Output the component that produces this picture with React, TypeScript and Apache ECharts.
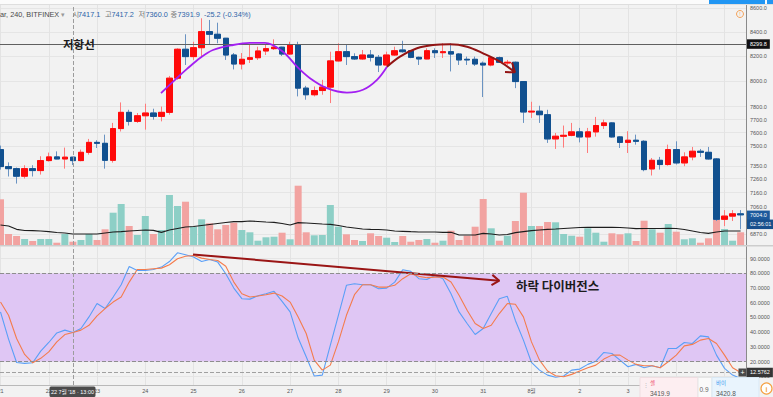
import React, { useEffect, useRef } from 'react';
import * as echarts from 'echarts';

// ---------- data ----------
const dayLabels = ['21', '22', '23', '24', '25', '26', '27', '28', '29', '30', '31', '8월', '2', '3', '4', '5'];
const barsPerDay = 6;
const visibleDayLabels = 14; // "4" and "5" sit under the order widget in the reference

const opens = [
  7473, 7348, 7333, 7278, 7333, 7319, 7392, 7419, 7404, 7417.1,
  7392, 7453, 7527, 7520, 7394, 7631, 7755, 7686, 7729, 7750,
  7724, 7755, 8023, 8257, 8197, 8270, 8403, 8381, 8348, 8210,
  8137, 8175, 8188, 8243, 8262, 8274, 8218, 8292, 7944, 7892,
  7925, 7952, 8162, 8237, 8197, 8178, 8210, 8191, 8129, 8210,
  8251, 8245, 8191, 8178, 8245, 8229, 8237, 8218, 8175, 8175,
  8143, 8129, 8188, 8145, 8151, 7996, 7758, 7764, 7737, 7553,
  7573, 7580, 7606, 7568, 7606, 7654, 7674, 7568, 7527, 7543,
  7535, 7331, 7394, 7363, 7473, 7375, 7419, 7461, 7453, 7404,
  6973, 6995, 7011,
];
const closes = [
  7348, 7333, 7278, 7333, 7319, 7392, 7419, 7404, 7417, 7391.9,
  7453, 7527, 7520, 7394, 7631, 7755, 7686, 7729, 7750, 7724,
  7755, 8023, 8257, 8197, 8270, 8403, 8381, 8348, 8210, 8137,
  8175, 8188, 8243, 8262, 8274, 8218, 8292, 7944, 7892, 7925,
  7952, 8162, 8237, 8197, 8178, 8210, 8191, 8129, 8210, 8245,
  8237, 8191, 8178, 8245, 8229, 8237, 8218, 8170, 8170, 8137,
  8129, 8188, 8151, 8151, 7996, 7758, 7764, 7737, 7553, 7573,
  7580, 7606, 7568, 7606, 7654, 7674, 7568, 7527, 7543, 7535,
  7326, 7394, 7363, 7473, 7375, 7419, 7461, 7453, 7404, 6973,
  6995, 7011, 7004,
];
const lows = [
  7326, 7276, 7225, 7261, 7276, 7290, 7385, 7402, 7333, 7360,
  7387, 7436, 7485, 7333, 7377, 7609, 7654, 7674, 7623, 7699,
  7686, 7737, 8010, 8129, 8170, 8197, 8292, 8306, 8170, 8093,
  8093, 8145, 8170, 8210, 8251, 8202, 8210, 7879, 7853, 7879,
  7892, 7827, 8157, 8129, 8170, 8170, 8157, 8072, 8118, 8202,
  8229, 8184, 8129, 8175, 8186, 8186, 8077, 8129, 8129, 8121,
  7874, 8118, 8145, 8129, 7944, 7674, 7712, 7674, 7523, 7478,
  7488, 7573, 7527, 7448, 7570, 7628, 7563, 7485, 7448, 7510,
  7314, 7283, 7326, 7355, 7363, 7351, 7394, 7419, 7399, 6961,
  6926, 6961, 6904,
];
const highs = [
  7503, 7379, 7341, 7358, 7358, 7424, 7451, 7460, 7488, 7417.2,
  7473, 7553, 7543, 7585, 7674, 7832, 7775, 7750, 7822, 7783,
  7800, 8041, 8265, 8381, 8319, 8515, 8501, 8478, 8350, 8226,
  8226, 8300, 8278, 8292, 8339, 8278, 8319, 8319, 7962, 7957,
  8010, 8237, 8306, 8292, 8224, 8251, 8251, 8210, 8237, 8278,
  8327, 8251, 8197, 8265, 8265, 8306, 8306, 8226, 8197, 8197,
  8157, 8202, 8197, 8170, 8157, 8000, 7837, 7806, 7775, 7598,
  7654, 7674, 7636, 7636, 7720, 7699, 7680, 7573, 7611, 7585,
  7543, 7411, 7419, 7510, 7535, 7453, 7493, 7478, 7493, 7411,
  7037, 7037, 7037,
];
const volumes = [
  4570, 1100, 900, 600, 400, 600, 600, 230, 1100, 330,
  500, 1100, 500, 1570, 3230, 4100, 1900, 1000, 2900, 1100,
  1500, 5000, 3900, 4330, 1830, 2570, 2170, 1570, 2000, 2230,
  1500, 1270, 430, 770, 830, 1230, 570, 5930, 1270, 970,
  1000, 4000, 1830, 1070, 500, 400, 1170, 900, 730, 300,
  900, 330, 500, 600, 230, 430, 1430, 500, 930, 1830,
  4600, 1670, 430, 930, 2400, 5230, 1900, 1900, 2300, 2270,
  1100, 930, 830, 1670, 1230, 330, 1170, 1070, 1170, 400,
  2430, 1570, 1230, 2100, 1330, 570, 670, 230, 670, 5900,
  1600, 430, 1270,
];
const volumeMA = [
  2000, 1900, 1570, 1450, 1430, 1400, 1330, 1250, 1200, 1100,
  1100, 1100, 1100, 1200, 1300, 1330, 1400, 1450, 1500, 1470,
  1270, 1500, 1650, 1800, 1850, 1950, 2050, 2150, 2250, 2330,
  2330, 2400, 2350, 2300, 2270, 2150, 2000, 2230, 2200, 2150,
  2100, 2070, 1950, 1800, 1700, 1600, 1570, 1550, 1500, 1400,
  1370, 1330, 1300, 1300, 1300, 1270, 1270, 1000, 1000, 1000,
  1170, 1100, 1000, 1050, 1230, 1330, 1430, 1500, 1570, 1600,
  1650, 1700, 1750, 1770, 1770, 1770, 1770, 1750, 1700, 1630,
  1650, 1650, 1650, 1670, 1650, 1550, 1400, 1250, 1170, 1300,
  1400, 1400, 1400,
];
const stochK = [
  53.8, 35.3, 19.4, 18.8, 19.2, 27.1, 33, 39.5, 41.4, 39.8,
  42.5, 50.4, 59.5, 56.1, 63.9, 72.3, 84.7, 82, 82, 82.7,
  84.3, 88.1, 94, 92.7, 91.1, 88.1, 89.5, 87.7, 79.8, 70,
  62.8, 62.5, 64.8, 66.2, 67.8, 61, 53.8, 36, 23.3, 10.2,
  10.8, 31.2, 51.5, 71.9, 73, 72.3, 72.3, 69.6, 70, 74.1,
  82.5, 81.4, 76.4, 75.9, 78.6, 76.4, 66.2, 53.8, 45.9, 38.4,
  42.5, 52.7, 62.8, 64.4, 48, 34.6, 19.4, 14.2, 10.8, 9.3,
  10.2, 14.2, 14.9, 18.1, 20.3, 26.2, 25.5, 21, 16.5, 18.1,
  15.8, 17.2, 15.8, 28.9, 28.9, 33, 32.3, 37.5, 36.8, 24.4,
  15.4, 10.8, 8.5,
];
const stochD = [
  60.5, 51.5, 35.7, 24.9, 19.2, 22.2, 26.6, 33.4, 38.4, 39.8,
  41.4, 44.7, 51.1, 56.1, 60.5, 63.9, 74.1, 82.7, 82.7, 83.2,
  83.6, 85.9, 90, 91.7, 92.2, 90.4, 89.5, 88.8, 84.9, 74.1,
  66.2, 63.9, 64.6, 65.5, 66.6, 64.6, 60.5, 50.4, 39.1, 21,
  14.2, 17.6, 33.4, 51.5, 65.5, 72.3, 72.3, 70.7, 70.7, 71.9,
  76.4, 79.8, 78, 77.1, 77.5, 77.5, 74.1, 65.1, 54.9, 45.9,
  42.5, 44.7, 52.7, 59.5, 59, 50.4, 33.4, 21, 13.6, 10.4,
  9.7, 11.3, 13.6, 15.8, 17.6, 21.7, 24.4, 24.4, 21, 18.1,
  17.2, 17.2, 15.8, 19.9, 24.4, 30.7, 31.7, 34.6, 35.7, 32.3,
  24.4, 15.8, 12.5762,
];

const priceTicks = [8600, 8400, 8200, 8000, 7800, 7700, 7600, 7500, 7350, 7260, 7160, 7060, 6870];
const stochTicks = [90, 80, 70, 60, 50, 40, 30, 20, 10];
const stochUpper = 80;
const stochLower = 20;
const resistanceLevel = 8299.8;
const lastPrice = 7004.0;
const lastStoch = 12.5762;
const countdown = '02:56:01';
const crosshairIndex = 9;
const crosshairLabel = "22 7월 '18 · 13:00";

// drawn annotations: [bar index, price] / [bar index, stoch value]
const purpleArc = [
  [19.95, 7905], [21.69, 8010], [23.18, 8097], [24.8, 8186], [26.41, 8251], [28.9, 8292],
  [31.01, 8309], [32.88, 8309], [35.11, 8237], [36.86, 8115], [38.47, 8023], [40.58, 7944],
  [43.07, 7909], [45.06, 7931], [46.8, 8010], [48.04, 8115],
];
const redArc = [
  [48.04, 8115], [49.66, 8197], [51.77, 8265], [53.76, 8292], [55.87, 8298], [57.99, 8278],
  [59.98, 8224], [62.09, 8156], [63.95, 8070],
];
const redArrowHead = [[62.71, 8072], [63.95, 8070], [63.58, 8149]];
const divergenceLine = [[23.93, 92.9], [62.0, 75.05]];
const divergenceArrowHead = [[61.03, 72.0], [62.0, 75.05], [61.14, 79.0]];

const bidLabel = '셀';
const bidPrice = '3419.9';
const spread = '0.9';
const askLabel = '바이';
const askPrice = '3420.8';

// ---------- styling ----------
const LATIN = '"Liberation Sans", Arial, "Noto Sans CJK KR", sans-serif';
const KR = '"Noto Sans CJK KR", "Noto Sans", sans-serif';
const UP = '#ff0a0a';
const DOWN = '#11508f';
const UP_WICK = '#ff7a7a';
const DOWN_WICK = '#6a93c2';
const TEAL = '#8dcfc6';
const SALMON = '#f2a3a1';
const BG = '#f2f2f2';

const X_MIN = -0.0622;
const X_MAX = 92.667;

function buildOption(): any {
  const idx = opens.map((_, i) => i);
  const dayStarts = dayLabels.map((_, d) => d * barsPerDay).filter((v) => v <= idx.length - 1);
  const labelStarts = dayStarts.slice(0, visibleDayLabels);
  const candleFull = idx.map((i) => [i, opens[i], closes[i], lows[i], highs[i]]);
  const candleBody = idx.map((i) => [
    i, opens[i], closes[i], Math.min(opens[i], closes[i]), Math.max(opens[i], closes[i]),
  ]);
  const volData = idx.map((i) => ({
    value: [i, volumes[i]],
    itemStyle: { color: closes[i] >= opens[i] ? TEAL : SALMON },
  }));

  const xAxisFor = (gridIndex: number, showLabels: boolean) => ({
    type: 'value',
    gridIndex,
    min: X_MIN,
    max: X_MAX,
    axisLine: { show: showLabels, onZero: false, lineStyle: { color: '#b9b9b9' } },
    axisTick: { show: false, customValues: dayStarts },
    axisLabel: {
      show: showLabels,
      customValues: labelStarts,
      formatter: (v: number) => dayLabels[Math.round(v / barsPerDay)],
      fontSize: 5.5,
      color: '#555',
      margin: 3.5,
      fontFamily: LATIN,
    },
    splitLine: { show: true, lineStyle: { color: '#e3e3e3', width: 1 } },
  });

  const o = opens[crosshairIndex];
  const h = highs[crosshairIndex];
  const l = lows[crosshairIndex];
  const c = closes[crosshairIndex];
  const chg = c - o;
  const pct = (chg / o) * 100;
  const valColor = c >= o ? UP : '#2d64a8';

  const headerPieces: any[] = [
    { x: 0, text: 'ar, 240, BITFINEX', fill: '#4a4a4a' },
    { x: 60.5, text: '▾', fill: '#999' },
    { x: 72.5, text: '시', fill: '#777' },
    { x: 78, text: o.toFixed(1), fill: valColor },
    { x: 105, text: '고', fill: '#777' },
    { x: 111.5, text: h.toFixed(1), fill: valColor },
    { x: 138.5, text: '저', fill: '#777' },
    { x: 145.5, text: l.toFixed(1), fill: valColor },
    { x: 170.5, text: '종', fill: '#777' },
    { x: 177.5, text: c.toFixed(1), fill: valColor },
    { x: 204, text: `${chg.toFixed(1)} (${pct.toFixed(2)}%)`, fill: valColor },
  ];

  const graphic: any[] = [
    // top toolbar strip
    { type: 'rect', left: 0, top: 0, shape: { width: 773, height: 4 }, style: { fill: '#fbfbfb' }, z: 10 },
    { type: 'line', shape: { x1: 0, y1: 4.5, x2: 773, y2: 4.5 }, style: { stroke: '#dedede', lineWidth: 1 }, z: 10 },
    { type: 'rect', shape: { x: 709, y: 0, width: 56, height: 4 }, style: { fill: '#2196f3' }, z: 11 },
    { type: 'rect', shape: { x: 767, y: 0, width: 6, height: 4 }, style: { fill: '#2196f3' }, z: 11 },
    // pane separator
    { type: 'rect', shape: { x: 0, y: 245, width: 773, height: 1.5 }, style: { fill: '#cdcdcd' }, z: 10 },
    // header legend
    ...headerPieces.map((p) => ({
      type: 'text', x: p.x, y: 14, z: 12,
      style: { text: p.text, fill: p.fill, fontSize: 7.3, fontFamily: LATIN, textVerticalAlign: 'middle', textAlign: 'left' },
    })),
    // info icon top right
    { type: 'circle', shape: { cx: 740, cy: 14, r: 3.5 }, style: { fill: 'none', stroke: '#f5a35b', lineWidth: 1 }, z: 12 },
    { type: 'text', x: 740, y: 14.3, z: 12, style: { text: '!', fill: '#f5a35b', fontSize: 5, fontFamily: LATIN, textAlign: 'center', textVerticalAlign: 'middle' } },
    // annotation texts
    { type: 'text', x: 63, y: 44, z: 12, style: { text: '저항선', fill: '#1c1c1c', fontSize: 11.5, fontWeight: 'bold', fontFamily: KR, textVerticalAlign: 'middle' } },
    { type: 'text', x: 516, y: 285.5, z: 12, style: { text: '하락 다이버전스', fill: '#1c1c1c', fontSize: 12.5, fontWeight: 'bold', fontFamily: KR, textVerticalAlign: 'middle' } },
    // crosshair time label
    { type: 'rect', shape: { x: 49.5, y: 386.5, width: 46, height: 10.5, r: 1.5 }, style: { fill: '#4b4b4b' }, z: 13 },
    { type: 'text', x: 72.5, y: 391.8, z: 14, style: { text: crosshairLabel, fill: '#fff', fontSize: 5.5, fontFamily: LATIN, textAlign: 'center', textVerticalAlign: 'middle' } },
    // "+" marker next to stoch value
    { type: 'rect', shape: { x: 738.5, y: 368.5, width: 8, height: 8 }, style: { fill: '#4a4a4a' }, z: 13 },
    { type: 'text', x: 742.5, y: 372.7, z: 14, style: { text: '+', fill: '#fff', fontSize: 7, fontFamily: LATIN, textAlign: 'center', textVerticalAlign: 'middle' } },
    // bid/ask widget
    { type: 'rect', shape: { x: 640, y: 377.5, width: 58, height: 22 }, style: { fill: '#fdeef1', stroke: '#efdde1', lineWidth: 1 }, z: 13 },
    { type: 'rect', shape: { x: 698, y: 377.5, width: 14, height: 22 }, style: { fill: '#fafafa', stroke: '#e6e6e6', lineWidth: 1 }, z: 13 },
    { type: 'rect', shape: { x: 712, y: 377.5, width: 47, height: 22 }, style: { fill: '#e9f4fd', stroke: '#d9e8f4', lineWidth: 1 }, z: 13 },
    { type: 'text', x: 643, y: 384.5, z: 14, style: { text: '⋮', fill: '#bbb', fontSize: 6, fontFamily: LATIN, textVerticalAlign: 'middle' } },
    { type: 'text', x: 650, y: 383, z: 14, style: { text: bidLabel, fill: '#ef4f6c', fontSize: 5.5, fontFamily: KR, textVerticalAlign: 'middle' } },
    { type: 'text', x: 650, y: 393, z: 14, style: { text: bidPrice, fill: '#555', fontSize: 6.5, fontFamily: LATIN, textVerticalAlign: 'middle' } },
    { type: 'text', x: 699.5, y: 389, z: 14, style: { text: spread, fill: '#666', fontSize: 6.5, fontFamily: LATIN, textVerticalAlign: 'middle' } },
    { type: 'text', x: 716, y: 383, z: 14, style: { text: askLabel, fill: '#3a9df0', fontSize: 5.5, fontFamily: KR, textVerticalAlign: 'middle' } },
    { type: 'text', x: 716, y: 393, z: 14, style: { text: askPrice, fill: '#555', fontSize: 6.5, fontFamily: LATIN, textVerticalAlign: 'middle' } },
    { type: 'circle', shape: { cx: 766.5, cy: 388.5, r: 5.5 }, style: { fill: '#fff', stroke: '#f5a142', lineWidth: 1.2 }, z: 14 },
    { type: 'text', x: 766.5, y: 389, z: 15, style: { text: 'i', fill: '#f5a142', fontSize: 7, fontWeight: 'bold', fontFamily: LATIN, textAlign: 'center', textVerticalAlign: 'middle' } },
  ];

  return {
    animation: false,
    backgroundColor: BG,
    textStyle: { fontFamily: LATIN },
    grid: [
      { left: 0, right: 27, top: 4, height: 241, containLabel: false, outerBoundsMode: 'none' },
      { left: 0, right: 27, top: 246.5, height: 138.5, containLabel: false, outerBoundsMode: 'none' },
    ],
    xAxis: [xAxisFor(0, false), xAxisFor(1, true)],
    yAxis: [
      {
        type: 'log', logBase: 10, gridIndex: 0, position: 'right', min: 6797, max: 8637,
        axisLine: { show: true, onZero: false, lineStyle: { color: '#8a8a8a' } },
        axisTick: { show: false, customValues: priceTicks },
        axisLabel: { customValues: priceTicks, formatter: (v: number) => v.toFixed(1), fontSize: 5.5, color: '#555', margin: 4, fontFamily: LATIN },
        splitLine: { show: true, lineStyle: { color: '#e5e5e5' } },
      },
      { type: 'value', gridIndex: 0, min: 0, max: 24100, show: false, splitLine: { show: false } },
      {
        type: 'value', gridIndex: 1, position: 'right', min: 4.07, max: 98.31,
        axisLine: { show: true, onZero: false, lineStyle: { color: '#8a8a8a' } },
        axisTick: { show: false, customValues: stochTicks },
        axisLabel: { customValues: stochTicks, formatter: (v: number) => v.toFixed(4), fontSize: 5.5, color: '#555', margin: 4, fontFamily: LATIN },
        splitLine: { show: true, lineStyle: { color: '#e5e5e5' } },
      },
    ],
    series: [
      {
        name: 'volume', type: 'bar', xAxisIndex: 0, yAxisIndex: 1, data: volData, barWidth: 7, z: 1,
      },
      {
        name: 'volumeMA', type: 'line', xAxisIndex: 0, yAxisIndex: 1, z: 2,
        data: idx.map((i) => [i, volumeMA[i]]), symbol: 'none',
        lineStyle: { color: '#1e1e1e', width: 1.2 },
      },
      {
        name: 'wicks', type: 'candlestick', xAxisIndex: 0, yAxisIndex: 0, z: 3, data: candleFull,
        barWidth: 6, clip: false,
        itemStyle: { color: 'rgba(0,0,0,0)', color0: 'rgba(0,0,0,0)', borderColor: UP_WICK, borderColor0: DOWN_WICK, borderWidth: 1 },
        markLine: {
          silent: true, symbol: ['none', 'none'], animation: false,
          data: [
            {
              yAxis: resistanceLevel,
              lineStyle: { color: '#606060', width: 1.2, type: 'solid' },
              label: {
                show: true, position: 'end', distance: 1, formatter: resistanceLevel.toFixed(1),
                backgroundColor: '#111', color: '#fff', fontSize: 5.5, padding: [2, 3], fontFamily: LATIN,
              },
            },
            { xAxis: crosshairIndex, lineStyle: { color: '#9c9c9c', width: 1, type: 'dashed' }, label: { show: false } },
          ],
        },
      },
      {
        name: 'bodies', type: 'candlestick', xAxisIndex: 0, yAxisIndex: 0, z: 4, data: candleBody,
        barWidth: 6, clip: false,
        itemStyle: { color: UP, color0: DOWN, borderColor: UP, borderColor0: DOWN, borderWidth: 1 },
        markLine: {
          silent: true, symbol: ['none', 'none'], animation: false,
          lineStyle: { color: 'rgba(0,0,0,0)', width: 1 },
          data: [
            {
              yAxis: lastPrice,
              label: {
                show: true, position: 'end', distance: 1, offset: [0, 5],
                formatter: `{a|${lastPrice.toFixed(1)}}\n{b|${countdown}}`,
                rich: {
                  a: { backgroundColor: '#1d5a9d', color: '#fff', fontSize: 5.5, padding: [2, 3], fontFamily: LATIN, lineHeight: 9 },
                  b: { backgroundColor: '#174f8c', color: '#fff', fontSize: 5.5, padding: [2, 3], fontFamily: LATIN, lineHeight: 9 },
                },
              },
            },
          ],
        },
      },
      {
        name: 'purpleArc', type: 'line', xAxisIndex: 0, yAxisIndex: 0, z: 5, data: purpleArc,
        smooth: 0.35, symbol: 'none', lineStyle: { color: '#a31ff2', width: 1.8 },
      },
      {
        name: 'redArc', type: 'line', xAxisIndex: 0, yAxisIndex: 0, z: 5, data: redArc,
        smooth: 0.35, symbol: 'none', lineStyle: { color: '#921414', width: 2 },
      },
      {
        name: 'redArrowHead', type: 'line', xAxisIndex: 0, yAxisIndex: 0, z: 5, data: redArrowHead,
        symbol: 'none', lineStyle: { color: '#921414', width: 2 },
      },
      {
        name: 'stochBand', type: 'line', xAxisIndex: 1, yAxisIndex: 2, z: 1,
        data: idx.map((i) => [i, stochD[i]]), symbol: 'none', lineStyle: { opacity: 0 },
        markArea: {
          silent: true,
          itemStyle: { color: '#dfc6f4' },
          data: [[{ yAxis: stochLower }, { yAxis: stochUpper }]],
        },
        markLine: {
          silent: true, symbol: ['none', 'none'], animation: false,
          data: [
            { yAxis: stochUpper, lineStyle: { color: '#8e8e8e', width: 1, type: 'dashed' }, label: { show: false } },
            { yAxis: stochLower, lineStyle: { color: '#8e8e8e', width: 1, type: 'dashed' }, label: { show: false } },
            {
              yAxis: lastStoch, lineStyle: { color: '#a0a0a0', width: 1, type: 'dashed' },
              label: {
                show: true, position: 'end', distance: 1, formatter: lastStoch.toFixed(4),
                backgroundColor: '#363636', color: '#fff', fontSize: 5.5, padding: [2, 3], fontFamily: LATIN,
              },
            },
            { xAxis: crosshairIndex, lineStyle: { color: '#9c9c9c', width: 1, type: 'dashed' }, label: { show: false } },
          ],
        },
      },
      {
        name: '%K', type: 'line', xAxisIndex: 1, yAxisIndex: 2, z: 3,
        data: idx.map((i) => [i, stochK[i]]), symbol: 'none',
        lineStyle: { color: '#5a9ff7', width: 1.1 },
      },
      {
        name: '%D', type: 'line', xAxisIndex: 1, yAxisIndex: 2, z: 3,
        data: idx.map((i) => [i, stochD[i]]), symbol: 'none',
        lineStyle: { color: '#f47c4d', width: 1.1 },
      },
      {
        name: 'divergence', type: 'line', xAxisIndex: 1, yAxisIndex: 2, z: 4, data: divergenceLine,
        symbol: 'none', lineStyle: { color: '#9a1515', width: 2 },
      },
      {
        name: 'divergenceArrow', type: 'line', xAxisIndex: 1, yAxisIndex: 2, z: 4, data: divergenceArrowHead,
        symbol: 'none', lineStyle: { color: '#9a1515', width: 2 },
      },
    ],
    graphic,
  };
}

export default function App() {
  const ref = useRef<HTMLDivElement>(null);
  useEffect(() => {
    if (!ref.current) return;
    const chart = echarts.init(ref.current, undefined, { renderer: 'svg' });
    chart.setOption(buildOption());
    return () => {
      chart.dispose();
    };
  }, []);
  return (
    <div
      ref={ref}
      style={{ position: 'fixed', left: 0, top: 0, width: 773, height: 397, background: BG }}
    />
  );
}
